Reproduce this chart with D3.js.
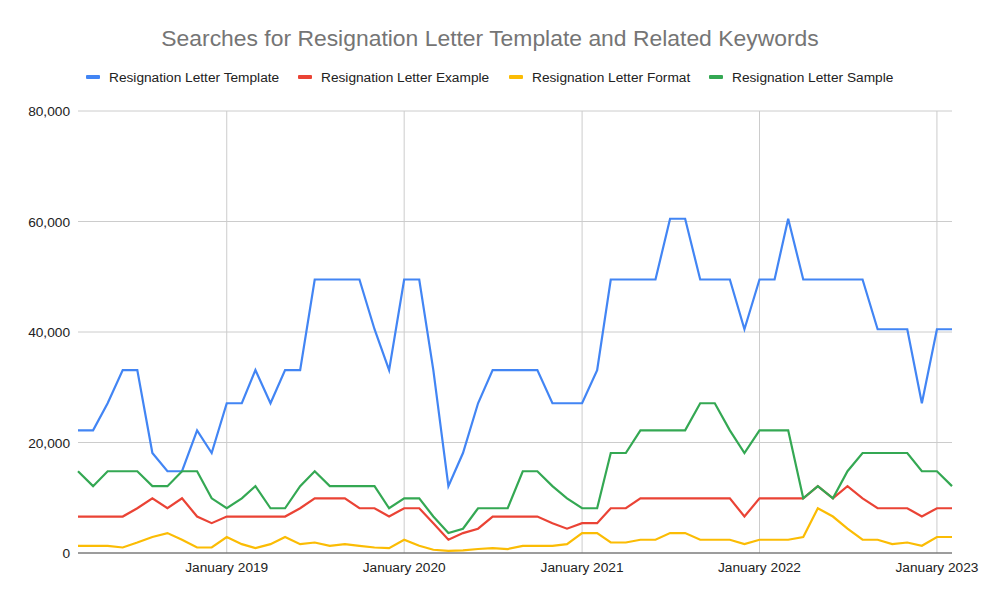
<!DOCTYPE html>
<html>
<head>
<meta charset="utf-8">
<script src="https://cdn.jsdelivr.net/npm/d3@7"></script>
<style>
body { margin: 0; background: #fff; }
text { font-family: "Liberation Sans", Arial, sans-serif; }
</style>
</head>
<body>
<script>
var months = [
  "2018-03","2018-04","2018-05","2018-06","2018-07","2018-08","2018-09","2018-10","2018-11","2018-12",
  "2019-01","2019-02","2019-03","2019-04","2019-05","2019-06","2019-07","2019-08","2019-09","2019-10",
  "2019-11","2019-12","2020-01","2020-02","2020-03","2020-04","2020-05","2020-06","2020-07","2020-08",
  "2020-09","2020-10","2020-11","2020-12","2021-01","2021-02","2021-03","2021-04","2021-05","2021-06",
  "2021-07","2021-08","2021-09","2021-10","2021-11","2021-12","2022-01","2022-02","2022-03","2022-04",
  "2022-05","2022-06","2022-07","2022-08","2022-09","2022-10","2022-11","2022-12","2023-01","2023-02"
];

var template = [22200,22200,27100,33100,33100,18100,14800,14800,22200,18100,
  27100,27100,33100,27100,33100,33100,49500,49500,49500,49500,
  40500,33100,49500,49500,33100,12100,18100,27100,33100,33100,
  33100,33100,27100,27100,27100,33100,49500,49500,49500,49500,
  60500,60500,49500,49500,49500,40500,49500,49500,60500,49500,
  49500,49500,49500,49500,40500,40500,40500,27100,40500,40500];

var example = [6600,6600,6600,6600,8100,9900,8100,9900,6600,5400,
  6600,6600,6600,6600,6600,8100,9900,9900,9900,8100,
  8100,6600,8100,8100,5400,2400,3600,4400,6600,6600,
  6600,6600,5400,4400,5400,5400,8100,8100,9900,9900,
  9900,9900,9900,9900,9900,6600,9900,9900,9900,9900,
  12100,9900,12100,9900,8100,8100,8100,6600,8100,8100];

var format = [1300,1300,1300,1000,1900,2900,3600,2400,1000,1000,
  2900,1600,880,1600,2900,1600,1900,1300,1600,1300,
  1000,880,2400,1300,590,390,480,720,880,720,
  1300,1300,1300,1600,3600,3600,1900,1900,2400,2400,
  3600,3600,2400,2400,2400,1600,2400,2400,2400,2900,
  8100,6600,4400,2400,2400,1600,1900,1300,2900,2900];

var sample = [14800,12100,14800,14800,14800,12100,12100,14800,14800,9900,
  8100,9900,12100,8100,8100,12100,14800,12100,12100,12100,
  12100,8100,9900,9900,6600,3600,4400,8100,8100,8100,
  14800,14800,12100,9900,8100,8100,18100,18100,22200,22200,
  22200,22200,27100,27100,22200,18100,22200,22200,22200,9900,
  12100,9900,14800,18100,18100,18100,18100,14800,14800,12100];

var seriesNames = ["Resignation Letter Template","Resignation Letter Example","Resignation Letter Format","Resignation Letter Sample"];
var seriesColors = ["#4285f4","#ea4335","#fbbc04","#34a853"];
var yTicks = [0,20000,40000,60000,80000];
var xTickLabels = ["January 2019","January 2020","January 2021","January 2022","January 2023"];
var titleText = "Searches for Resignation Letter Template and Related Keywords";

var W = 981, H = 603;
var plotL = 78, plotR = 952, plotT = 111, plotB = 553;
var fs = 13.7;

var parse = d3.timeParse("%Y-%m");
var dates = months.map(parse);

var svg = d3.select("body").append("svg").attr("width", W).attr("height", H);

var x = d3.scaleTime().domain([dates[0], dates[dates.length-1]]).range([plotL, plotR]);
var y = d3.scaleLinear().domain([0, 80000]).range([plotB, plotT]);

// horizontal grid + y labels
svg.selectAll(".hgrid").data(yTicks).enter().append("line")
  .attr("x1", plotL).attr("x2", plotR)
  .attr("y1", function(d){ return y(d); }).attr("y2", function(d){ return y(d); })
  .attr("stroke", "#cccccc").attr("stroke-width", 1);

svg.selectAll(".ylab").data(yTicks).enter().append("text")
  .attr("x", 70).attr("y", function(d){ return y(d) + 5; })
  .attr("text-anchor", "end").attr("font-size", fs).attr("fill", "#222")
  .text(function(d){ return d3.format(",")(d); });

// vertical grid at each january
var xTicks = xTickLabels.map(function(s){ return d3.timeParse("%B %Y")(s); });
svg.selectAll(".vgrid").data(xTicks).enter().append("line")
  .attr("x1", function(d){ return x(d); }).attr("x2", function(d){ return x(d); })
  .attr("y1", plotT).attr("y2", plotB)
  .attr("stroke", "#cccccc").attr("stroke-width", 1);

svg.selectAll(".xlab").data(xTicks).enter().append("text")
  .attr("x", function(d){ return x(d); }).attr("y", 572)
  .attr("text-anchor", "middle").attr("font-size", fs).attr("fill", "#222")
  .text(function(d, i){ return xTickLabels[i]; });

// baseline
svg.append("line").attr("x1", plotL).attr("x2", plotR)
  .attr("y1", y(0)).attr("y2", y(0))
  .attr("stroke", "#555").attr("stroke-width", 1.2);

// lines
var allSeries = [template, example, format, sample];
var line = d3.line()
  .x(function(d, i){ return x(dates[i]); })
  .y(function(d){ return y(d); });

svg.selectAll(".series").data(allSeries).enter().append("path")
  .attr("d", line)
  .attr("fill", "none")
  .attr("stroke", function(d, i){ return seriesColors[i]; })
  .attr("stroke-width", 2.2)
  .attr("stroke-linejoin", "miter");

// title
svg.append("text").attr("x", 490).attr("y", 46)
  .attr("text-anchor", "middle").attr("font-size", 22.9).attr("fill", "#757575")
  .text(titleText);

// legend
var legendX = [86, 298, 509, 709];
var leg = svg.selectAll(".leg").data(seriesNames).enter().append("g")
  .attr("transform", function(d, i){ return "translate(" + legendX[i] + ",0)"; });
leg.append("rect").attr("x", 0).attr("y", 75).attr("width", 14).attr("height", 4).attr("rx", 1)
  .attr("fill", function(d, i){ return seriesColors[i]; });
leg.append("text").attr("x", 23).attr("y", 82)
  .attr("font-size", fs).attr("fill", "#222")
  .text(function(d){ return d; });
</script>
</body>
</html>
